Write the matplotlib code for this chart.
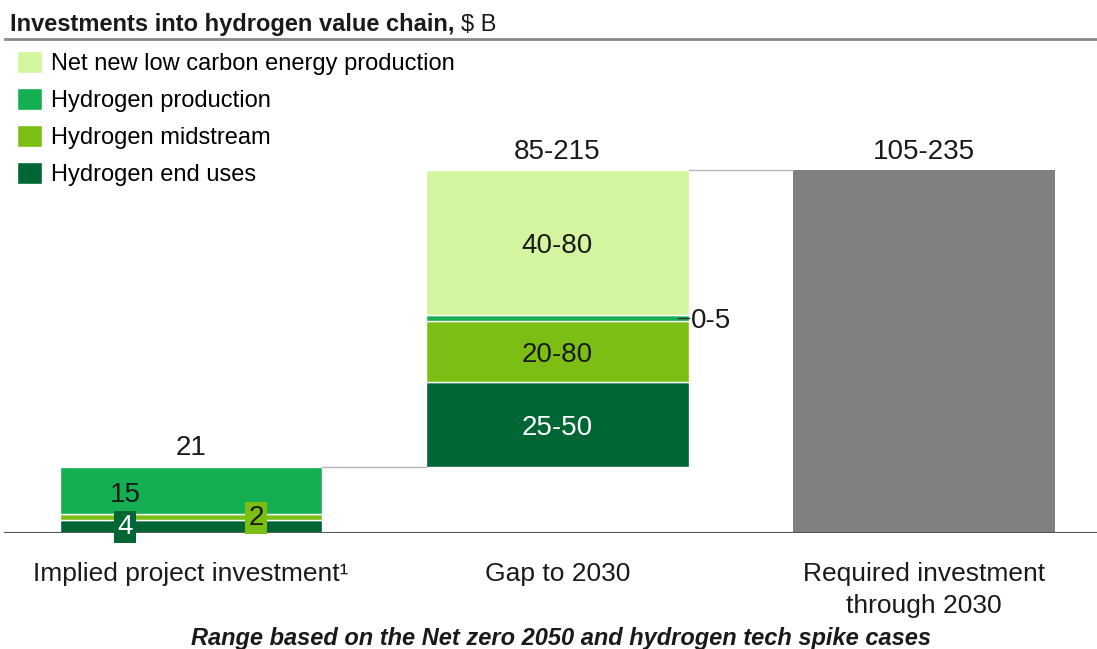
import matplotlib
matplotlib.use('Agg')
import matplotlib.pyplot as plt
from matplotlib.lines import Line2D
import matplotlib.transforms as mtransforms

plt.rcParams['font.family'] = ['Liberation Sans', 'DejaVu Sans']

# Investment segments, bottom to top of each stack
segments = ['Hydrogen end uses', 'Hydrogen midstream', 'Hydrogen production',
            'Net new low carbon energy production']
colors = ['#006633', '#7cbe14', '#14af50', '#d4f5a0']

categories = ['Implied project investment\u00b9', 'Gap to 2030',
              'Required investment\nthrough 2030']

# $ B
implied = [4, 2, 15, 0]
gap = [27, 19.5, 2, 46]
gap_labels = ['25-50', '20-80', '0-5', '40-80']
total_labels = ['21', '85-215', '105-235']

implied_total = sum(implied)
required = implied_total + sum(gap)

fig = plt.figure(figsize=(10.97, 6.49), dpi=100)
ax = fig.add_axes([0, 116 / 649, 1, 483 / 649])
ax.set_xlim(-0.521, 2.472)
ax.set_ylim(0, 153.8)
ax.axis('off')

w = 0.715
x = [0, 1, 2]

# stacked bars: implied investment from 0, gap floats on top of it
handles = []
b1, b2 = 0, implied_total
for i, seg in enumerate(segments):
    if implied[i] > 0:
        ax.bar(x[0], implied[i], w, bottom=b1, color=colors[i],
               edgecolor='white', linewidth=1)
    h = ax.bar(x[1], gap[i], w, bottom=b2, color=colors[i],
               edgecolor='white', linewidth=1, label=seg)
    handles.append(h)
    b1 += implied[i]
    b2 += gap[i]

ax.bar(x[2], required, w, color='#808080')

# connectors between bars
ax.plot([x[0] + w / 2, x[1] - w / 2], [implied_total, implied_total],
        color='#b5b5b5', lw=1)
ax.plot([x[1] + w / 2, x[2] - w / 2], [required, required],
        color='#b5b5b5', lw=1)

ax.axhline(0, xmin=0.005, xmax=1, color='#555555', lw=1.5)

# totals on top
for xi, top, lab in zip(x, [implied_total, required, required], total_labels):
    ax.annotate(lab, (xi, top), xytext=(0, 4), textcoords='offset points',
                ha='center', va='bottom', fontsize=20, color='#1a1a1a')

# labels inside the implied bar
ax.text(x[0] - 0.18, 13.1, str(implied[2]), ha='center',
        va='center_baseline', fontsize=20, color='#1a1a1a')
ax.text(x[0] - 0.18, 1.9, str(implied[0]), ha='center', va='center',
        fontsize=20, color='white',
        bbox=dict(boxstyle='square,pad=0.12', fc=colors[0], ec='none'))
ax.text(x[0] + 0.177, 4.8, str(implied[1]), ha='center', va='center',
        fontsize=20, color='#1a1a1a',
        bbox=dict(boxstyle='square,pad=0.12', fc=colors[1], ec='none'))

# labels inside the gap bar
bottom = implied_total
for i, lab in enumerate(gap_labels):
    mid = bottom + gap[i] / 2
    if i == 2:
        edge = x[1] + w / 2
        ax.plot([edge - 0.03, edge], [mid, mid], color='#333333', lw=1)
        ax.text(edge + 0.006, mid, lab, ha='left', va='center_baseline',
                fontsize=20, color='#1a1a1a')
    else:
        ax.text(x[1], mid, lab, ha='center', va='center_baseline',
                fontsize=20, color='white' if i == 0 else '#1a1a1a')
    bottom += gap[i]

# category labels under the baseline
trans = mtransforms.blended_transform_factory(ax.transData, fig.transFigure)
for xi, cat in zip(x, categories):
    ax.text(xi, 1 - 562 / 649, cat, transform=trans, ha='center', va='top',
            fontsize=19, color='#1a1a1a', linespacing=1.4)

fig.text(561 / 1097, 1 - 638 / 649,
         'Range based on the Net zero 2050 and hydrogen tech spike cases',
         ha='center', va='center', fontsize=17, fontweight='bold',
         fontstyle='italic', color='#1a1a1a')

# title with unit
t = fig.text(10 / 1097, 1 - 31 / 649, 'Investments into hydrogen value chain,',
             ha='left', va='baseline', fontsize=17, fontweight='bold',
             color='#1a1a1a')
fig.canvas.draw()
bb = t.get_window_extent().transformed(fig.transFigure.inverted())
fig.text(bb.x1 + 6 / 1097, 1 - 31 / 649, '$ B', ha='left', va='baseline',
         fontsize=17, color='#1a1a1a')
fig.add_artist(Line2D([5 / 1097, 1], [1 - 38.5 / 649, 1 - 38.5 / 649],
                      color='#8a8a8a', lw=2))

ax.legend(handles=handles[::-1], loc='upper left',
          bbox_to_anchor=(17 / 1097, 1 - 51 / 649),
          bbox_transform=fig.transFigure, frameon=False, fontsize=17,
          handlelength=1.06, handleheight=1.06, handletextpad=0.38,
          labelspacing=0.55, borderpad=0, borderaxespad=0)

fig.savefig('out.png', dpi=100)
